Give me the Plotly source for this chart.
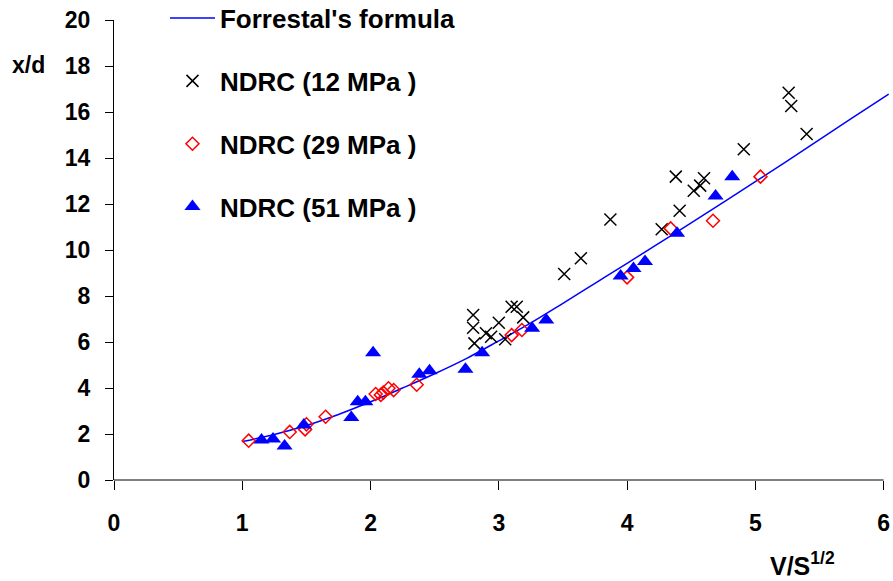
import plotly.graph_objects as go

# Forrestal's formula curve
curve_x = [1.0, 1.25, 1.5, 1.75, 2.0, 2.25, 2.5, 2.75, 3.0, 3.25, 3.5, 3.75,
           4.0, 4.25, 4.5, 4.75, 5.0, 5.25, 5.5, 5.75, 6.04]
curve_y = [1.67, 1.98, 2.37, 2.85, 3.4, 4.0, 4.62, 5.29, 6.05, 6.83, 7.68, 8.55,
           9.42, 10.3, 11.18, 12.07, 12.97, 13.88, 14.8, 15.72, 16.78]

# NDRC 12 MPa
x12 = [2.80, 2.80, 2.81, 2.90, 2.94, 3.00, 3.05, 3.10, 3.14, 3.19, 3.51, 3.64,
       3.87, 4.27, 4.38, 4.41, 4.52, 4.57, 4.60, 4.91, 5.26, 5.28, 5.40]
y12 = [7.17, 6.62, 5.94, 6.38, 6.23, 6.84, 6.12, 7.53, 7.53, 7.07, 8.96, 9.64,
       11.33, 10.90, 13.19, 11.71, 12.58, 12.80, 13.12, 14.38, 16.84, 16.26, 15.04]

# NDRC 29 MPa
x29 = [1.05, 1.37, 1.50, 1.49, 1.65, 2.04, 2.08, 2.10, 2.14, 2.18, 2.36, 3.10,
       3.18, 4.00, 4.34, 4.67, 5.04]
y29 = [1.71, 2.09, 2.42, 2.20, 2.75, 3.74, 3.70, 3.80, 3.99, 3.91, 4.14, 6.30,
       6.52, 8.81, 10.94, 11.27, 13.19]

# NDRC 51 MPa
x51 = [1.15, 1.24, 1.33, 1.48, 1.85, 1.90, 1.96, 2.02, 2.38, 2.46, 2.74, 2.87,
       3.26, 3.37, 3.95, 4.05, 4.14, 4.39, 4.69, 4.82]
y51 = [1.74, 1.78, 1.48, 2.39, 2.72, 3.40, 3.40, 5.53, 4.60, 4.75, 4.81, 5.53,
       6.60, 6.96, 8.87, 9.20, 9.50, 10.73, 12.35, 13.19]

x_ticks = [0, 1, 2, 3, 4, 5, 6]
y_ticks = [0, 2, 4, 6, 8, 10, 12, 14, 16, 18, 20]

FONT = "Liberation Sans, Arial, sans-serif"
TICKFONT = dict(family=FONT, size=23, color="black", weight="bold")
LEGFONT = dict(family=FONT, size=26, color="black", weight="bold")
XTITLEFONT = dict(family=FONT, size=25, color="black", weight="bold")

fig = go.Figure()
fig.add_trace(go.Scatter(x=curve_x, y=curve_y, mode="lines", name="Forrestal's formula",
                         line=dict(color="#0000FF", width=1.5, shape="spline"),
                         legendgroup="a"))
fig.add_trace(go.Scatter(x=x12, y=y12, mode="markers", name="NDRC (12 MPa )",
                         marker=dict(symbol="x-thin", size=12, color="black",
                                     line=dict(color="black", width=1.5)),
                         legendgroup="b"))
fig.add_trace(go.Scatter(x=x29, y=y29, mode="markers", name="NDRC (29 MPa )",
                         marker=dict(symbol="diamond-open", size=10, color="#FF0000",
                                     line=dict(color="#FF0000", width=1.5)),
                         legendgroup="c"))
fig.add_trace(go.Scatter(x=x51, y=y51, mode="markers", name="NDRC (51 MPa )",
                         marker=dict(symbol="triangle-up", size=14, color="#0000FF",
                                     line=dict(width=0)),
                         legendgroup="d"))

fig.update_layout(
    width=893, height=581,
    margin=dict(l=114, r=3, t=20, b=101, autoexpand=False),
    paper_bgcolor="white", plot_bgcolor="white",
    font=dict(family=FONT, size=23, color="black", weight="bold"),
    showlegend=True,
    legend=dict(x=0.0657, y=1.055, xanchor="left", yanchor="top",
                bgcolor="rgba(0,0,0,0)", tracegroupgap=26, itemwidth=45,
                font=LEGFONT),
    xaxis=dict(range=[0, 6.05], tickvals=x_ticks, ticktext=[str(v) for v in x_ticks],
               showgrid=False, zeroline=False, showline=False,
               ticks="outside", ticklen=9, tickcolor="black", tickwidth=1,
               ticklabelstandoff=13, tickfont=TICKFONT),
    yaxis=dict(range=[0, 20], tickvals=y_ticks, ticktext=[str(v) for v in y_ticks],
               showgrid=False, zeroline=False, showline=True, linecolor="black", linewidth=1,
               ticks="outside", ticklen=8, tickcolor="black", tickwidth=1,
               ticklabelstandoff=10, tickfont=TICKFONT),
    shapes=[dict(type="line", xref="x", yref="paper", x0=0, x1=6, y0=0, y1=0,
                 line=dict(color="black", width=1))],
    annotations=[
        dict(text="x/d", xref="paper", yref="paper", x=-0.11, y=0.903,
             xanchor="center", yanchor="middle", showarrow=False, font=TICKFONT),
        dict(text="V/S<sup>1/2</sup>", xref="paper", yref="paper", x=0.887, y=-0.183,
             xanchor="center", yanchor="middle", showarrow=False, font=XTITLEFONT),
    ],
)

fig.write_html("out.html")
